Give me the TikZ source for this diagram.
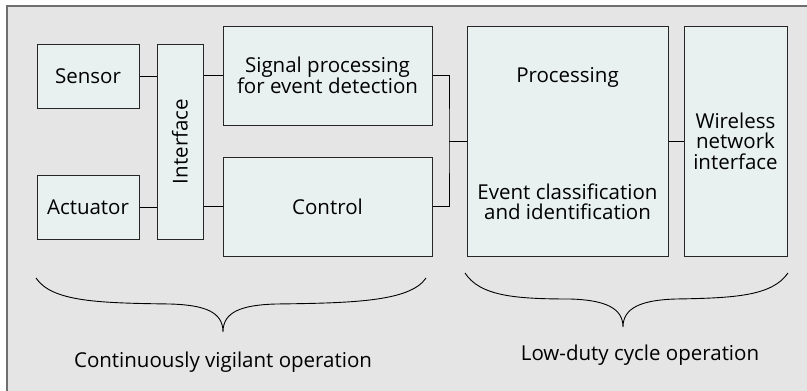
\documentclass[tikz,border=0pt]{standalone}
\usepackage{fontspec}
\setmainfont{Open Sans}
\usepackage{tikz}
\definecolor{panelgray}{HTML}{E5E5E5}
\definecolor{framegray}{HTML}{6F6F6F}
\definecolor{boxfill}{HTML}{E8F0F0}
\usetikzlibrary{positioning}

\begin{document}
\begin{tikzpicture}[x=1pt,y=-1pt]
    \tikzstyle{every node}=[font=\fontsize{20.5}{20.5}\selectfont, inner sep=0pt]
    \tikzstyle{block} = [draw=black!85, fill=boxfill, line width=1pt, align=center]
    \tikzstyle{link} = [line width=0.9pt]
    \tikzstyle{curly} = [line width=0.9pt]

    \useasboundingbox (0,0) rectangle (807,391);
    \fill[white] (0,0) rectangle (807,391);
    \filldraw[fill=panelgray, draw=framegray, line width=2pt] (7,6) rectangle (830,420);

    % left part
    \node[block, minimum width=102pt, minimum height=64pt](sensor) at (88,76) {Sensor};
    \node[block, minimum width=102pt, minimum height=64pt](actuator) at (88,207) {Actuator};
    \node[block, minimum width=46pt, minimum height=195pt](iface) at (180,141.5) {};
    \node[rotate=90](ifacetext) at (iface.center) {Interface};
    \node[block, minimum width=209pt, minimum height=99pt](sigproc) at (327.5,75.5) {Signal processing\\for event detection};
    \node[block, minimum width=209pt, minimum height=99pt](control) at (327.5,206.5) {Control};

    % right part
    \node[block, minimum width=201pt, minimum height=230pt](proc) at (567.5,141) {};
    \node(proctop) at (567.5,77) {Processing};
    \node[align=center](procbottom) at (567.5,202) {Event classification\\and identification};
    \node[block, minimum width=103pt, minimum height=230pt](wireless) at (735.5,141) {Wireless\\network\\interface};

    % wires
    \draw[link] (sensor.east) -- (sensor.east -| iface.west);
    \draw[link] (actuator.east) -- (actuator.east -| iface.west);
    \draw[link] (iface.east |- sigproc.west) -- (sigproc.west);
    \draw[link] (iface.east |- control.west) -- (control.west);
    \coordinate (join) at (449,141);
    \draw[link] (sigproc.east) -| (join) |- (control.east);
    \draw[link] (join) -- (proc.west);
    \draw[link] (proc.east) -- (wireless.west);

    % braces
    \coordinate (lb1) at (36,278);
    \coordinate (lbtip) at (223,332);
    \coordinate (lb2) at (426,278);
    \draw[curly] (lb1) .. controls (52,302) and (100,303) .. (170,304)
        .. controls (205,305) and (223,312) .. (lbtip)
        .. controls (223,312) and (241,305) .. (276,304)
        .. controls (350,303) and (410,302) .. (lb2);
    \coordinate (rb1) at (465,273);
    \coordinate (rbtip) at (623,327);
    \coordinate (rb2) at (788,273);
    \draw[curly] (rb1) .. controls (480,296) and (515,299) .. (570,299)
        .. controls (605,300) and (623,308) .. (rbtip)
        .. controls (623,308) and (641,300) .. (676,299)
        .. controls (735,298) and (772,296) .. (rb2);
    \node(cvo) at (223,362) {Continuously vigilant operation};
    \node(ldco) at (640,355) {Low-duty cycle operation};
\end{tikzpicture}
\end{document}
